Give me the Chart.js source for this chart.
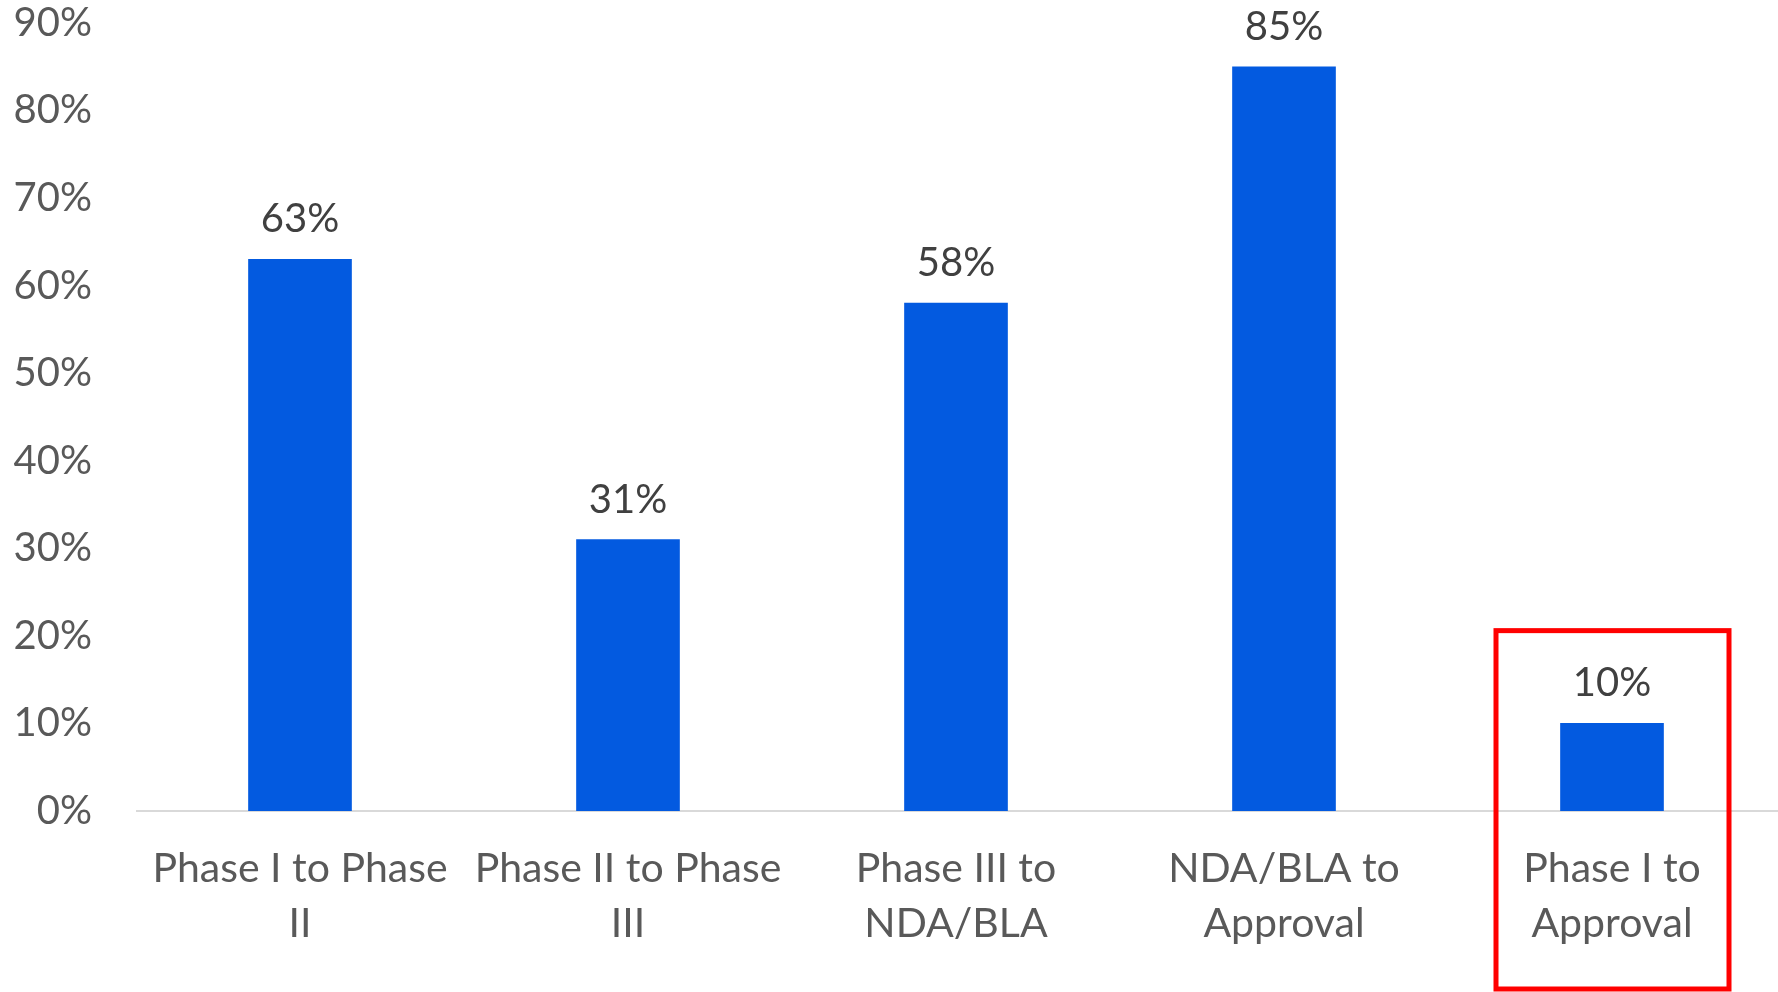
<!DOCTYPE html>
<html>
<head>
<meta charset="utf-8">
<script src="https://cdn.jsdelivr.net/npm/chart.js@4"></script>
<style>
  html, body { margin: 0; padding: 0; background: #fff; }
  #wrap { width: 1778px; height: 992px; }
</style>
</head>
<body>
<div id="wrap"><canvas id="canvass"></canvas></div>
<script>
// stage transitions and their success rates
var categories = [
    ["Phase I to Phase", "II"],
    ["Phase II to Phase", "III"],
    ["Phase III to", "NDA/BLA"],
    ["NDA/BLA to", "Approval"],
    ["Phase I to", "Approval"]
];
var successRates = [0.63, 0.31, 0.58, 0.85, 0.10];
var yTicks = [0, 0.1, 0.2, 0.3, 0.4, 0.5, 0.6, 0.7, 0.8, 0.9];
var highlightIndex = 4;

var fontFamily = "Lato, 'Open Sans', sans-serif";

// value labels above the bars
var barLabels = {
    id: 'barLabels',
    afterDatasetsDraw: function (chart) {
        var ctx = chart.ctx;
        var meta = chart.getDatasetMeta(0);
        ctx.save();
        ctx.font = "40px " + fontFamily;
        ctx.fillStyle = "#404040";
        ctx.textAlign = "center";
        ctx.textBaseline = "alphabetic";
        meta.data.forEach(function (bar, i) {
            ctx.fillText(Math.round(successRates[i] * 100) + "%", bar.x, bar.y - 27);
        });
        ctx.restore();
    }
};

// baseline + red box around the last category
var extras = {
    id: 'extras',
    beforeDatasetsDraw: function (chart) {
        var ctx = chart.ctx;
        var y0 = chart.scales.y.getPixelForValue(0);
        ctx.save();
        ctx.strokeStyle = "#d9d9d9";
        ctx.lineWidth = 2;
        ctx.beginPath();
        ctx.moveTo(chart.chartArea.left, y0);
        ctx.lineTo(chart.width, y0);
        ctx.stroke();
        ctx.restore();
    },
    afterDraw: function (chart) {
        var ctx = chart.ctx;
        var cx = chart.scales.x.getPixelForValue(highlightIndex);
        var top = chart.scales.y.getPixelForValue(0.206);
        ctx.save();
        ctx.strokeStyle = "#ff0000";
        ctx.lineWidth = 5;
        ctx.strokeRect(cx - 116, top, 233, chart.height - 3 - top);
        ctx.restore();
    }
};

var data = {
    labels: categories,
    datasets: [{
        data: successRates,
        backgroundColor: "#035ae0",
        borderWidth: 0,
        barThickness: 103
    }]
};

var ctx = document.getElementById('canvass').getContext('2d');
var myBarChart = new Chart(ctx, {
    type: 'bar',
    data: data,
    plugins: [barLabels, extras],
    options: {
        responsive: true,
        maintainAspectRatio: false,
        animation: false,
        layout: { padding: { top: 0, right: 2, bottom: 0, left: 0 } },
        plugins: {
            legend: { display: false },
            tooltip: { enabled: false }
        },
        scales: {
            x: {
                afterFit: function (scale) { scale.height = 181; },
                grid: { display: false, drawTicks: false },
                border: { display: false },
                ticks: {
                    color: "#595959",
                    font: { family: fontFamily, size: 41, lineHeight: 1.34 },
                    padding: 30,
                    maxRotation: 0,
                    autoSkip: false
                }
            },
            y: {
                min: 0,
                max: 0.9,
                afterFit: function (scale) {
                    scale.width = 136;
                    scale.paddingTop = 23;
                    scale.paddingBottom = 23;
                },
                afterBuildTicks: function (scale) {
                    scale.ticks = yTicks.map(function (v) { return { value: v }; });
                },
                grid: { display: false, drawTicks: false },
                border: { display: false },
                ticks: {
                    color: "#595959",
                    font: { family: fontFamily, size: 40 },
                    padding: 44,
                    callback: function (v) { return Math.round(v * 100) + "%"; }
                }
            }
        }
    }
});
</script>
</body>
</html>
